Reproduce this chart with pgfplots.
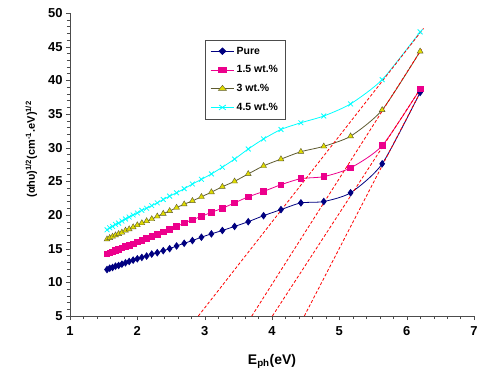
\documentclass[border=0pt]{standalone}
\usepackage{fontspec}
\setmainfont{Liberation Sans}
\usepackage{pgfplots}
\pgfplotsset{compat=1.18}
\definecolor{pureblue}{HTML}{000080}
\definecolor{olivel}{HTML}{5E5B30}
\definecolor{olivef}{HTML}{E0DC00}
\definecolor{cyanl}{HTML}{00FFFF}

\begin{document}
\begin{tikzpicture}
\begin{axis}[
    scale only axis,
    width=404bp,
    height=303bp,
    xmin=1, xmax=7,
    ymin=5, ymax=50,
    xtick={1,2,3,4,5,6,7},
    ytick={5,10,15,20,25,30,35,40,45,50},
    minor tick num=4,
    axis lines=left,
    axis line style={-, black!70},
    tick align=outside,
    major tick length=4bp,
    minor tick length=3bp,
    tick style={black!70},
    ticklabel style={font=\fontsize{13}{15}\selectfont\bfseries},
    xticklabel style={yshift=-3bp},
    /pgf/number format/assume math mode=true,
    xlabel={\fontsize{14}{16}\selectfont\bfseries E\textsubscript{ph}(eV)},
    ylabel={\fontsize{11}{13}\selectfont\bfseries (αhυ)\textsuperscript{1/2}(cm\textsuperscript{-1}.eV)\textsuperscript{1/2}},
    xlabel style={yshift=-12bp},
    ylabel style={at={(ticklabel cs:0.55)}, yshift=4bp},
    legend style={at={(0.334,0.912)}, anchor=north west, draw=black!70,
        font=\fontsize{10.5}{12.5}\selectfont\bfseries, row sep=6bp,
        inner xsep=5bp, inner ysep=5bp},
    legend image post style={xscale=1.4},
    legend cell align=left,
    clip=false,
]
% Pure
\addplot[color=pureblue, thick, smooth, tension=0.4, mark=diamond*, mark size=3.2bp, mark options={fill=pureblue}] coordinates {
(1.550,11.9) (1.590,12.1) (1.632,12.2) (1.676,12.4) (1.722,12.5) (1.771,12.7)
(1.824,12.9) (1.879,13.1) (1.938,13.3) (2.000,13.5) (2.067,13.7) (2.138,13.9)
(2.214,14.2) (2.296,14.4) (2.385,14.7) (2.480,15.0) (2.583,15.4) (2.696,15.8)
(2.818,16.2) (2.952,16.7) (3.100,17.2) (3.263,17.7) (3.444,18.3) (3.647,19.0)
(3.875,19.9) (4.133,20.8) (4.429,21.8) (4.769,22.0) (5.167,23.3) (5.636,27.6)
(6.200,38.2)
};
\addlegendentry{Pure}
% 1.5 wt.%
\addplot[color=magenta, thick, smooth, tension=0.4, mark=square*, mark size=2.8bp, mark options={fill=magenta}] coordinates {
(1.550,14.2) (1.590,14.4) (1.632,14.5) (1.676,14.7) (1.722,14.9) (1.771,15.1)
(1.824,15.3) (1.879,15.5) (1.938,15.7) (2.000,16.0) (2.067,16.2) (2.138,16.5)
(2.214,16.8) (2.296,17.1) (2.385,17.5) (2.480,17.9) (2.583,18.3) (2.696,18.8)
(2.818,19.3) (2.952,19.8) (3.100,20.4) (3.263,21.0) (3.444,21.8) (3.647,22.7)
(3.875,23.5) (4.133,24.5) (4.429,25.4) (4.769,25.7) (5.167,27.0) (5.636,30.3)
(6.200,38.7)
};
\addlegendentry{1.5 wt.\%}
% 3 wt.%
\addplot[color=olivel, thick, smooth, tension=0.4, mark=triangle*, mark size=3.4bp, mark options={fill=olivef, draw=olivel, thin}] coordinates {
(1.550,16.4) (1.590,16.6) (1.632,16.8) (1.676,17.0) (1.722,17.2) (1.771,17.4)
(1.824,17.7) (1.879,17.9) (1.938,18.2) (2.000,18.5) (2.067,18.8) (2.138,19.1)
(2.214,19.4) (2.296,19.8) (2.385,20.2) (2.480,20.6) (2.583,21.1) (2.696,21.6)
(2.818,22.1) (2.952,22.7) (3.100,23.4) (3.263,24.2) (3.444,25.0) (3.647,26.1)
(3.875,27.3) (4.133,28.3) (4.429,29.4) (4.769,30.2) (5.167,31.7) (5.636,35.6)
(6.200,44.3)
};
\addlegendentry{3 wt.\%}
% 4.5 wt.%
\addplot[color=cyanl, thick, smooth, tension=0.4, mark=x, mark size=3.4bp, mark options={thick}] coordinates {
(1.550,17.8) (1.590,18.1) (1.632,18.3) (1.676,18.6) (1.722,18.8) (1.771,19.1)
(1.824,19.4) (1.879,19.7) (1.938,20.0) (2.000,20.3) (2.067,20.7) (2.138,21.0)
(2.214,21.4) (2.296,21.8) (2.385,22.3) (2.480,22.8) (2.583,23.3) (2.696,23.9)
(2.818,24.6) (2.952,25.3) (3.100,26.1) (3.263,27.1) (3.444,28.3) (3.647,29.8)
(3.875,31.3) (4.133,32.7) (4.429,33.7) (4.769,34.7) (5.167,36.5) (5.636,40.1)
(6.200,47.2)
};
\addlegendentry{4.5 wt.\%}
% tangent lines
\addplot[red, densely dashed, line width=0.8bp, forget plot] coordinates {(2.906,5) (6.25,47.7)};
\addplot[red, densely dashed, line width=0.8bp, forget plot] coordinates {(3.700,5) (6.22,44.6)};
\addplot[red, densely dashed, line width=0.8bp, forget plot] coordinates {(4.006,5) (6.22,39.0)};
\addplot[red, densely dashed, line width=0.8bp, forget plot] coordinates {(4.480,5) (6.22,38.6)};
\coordinate (bl) at (rel axis cs:0,0);
\coordinate (tr) at (rel axis cs:1,1);
\end{axis}
\pgfresetboundingbox
\path ([shift={(-70bp,-58bp)}]bl) rectangle ([shift={(6bp,13bp)}]tr);
\end{tikzpicture}
\end{document}
